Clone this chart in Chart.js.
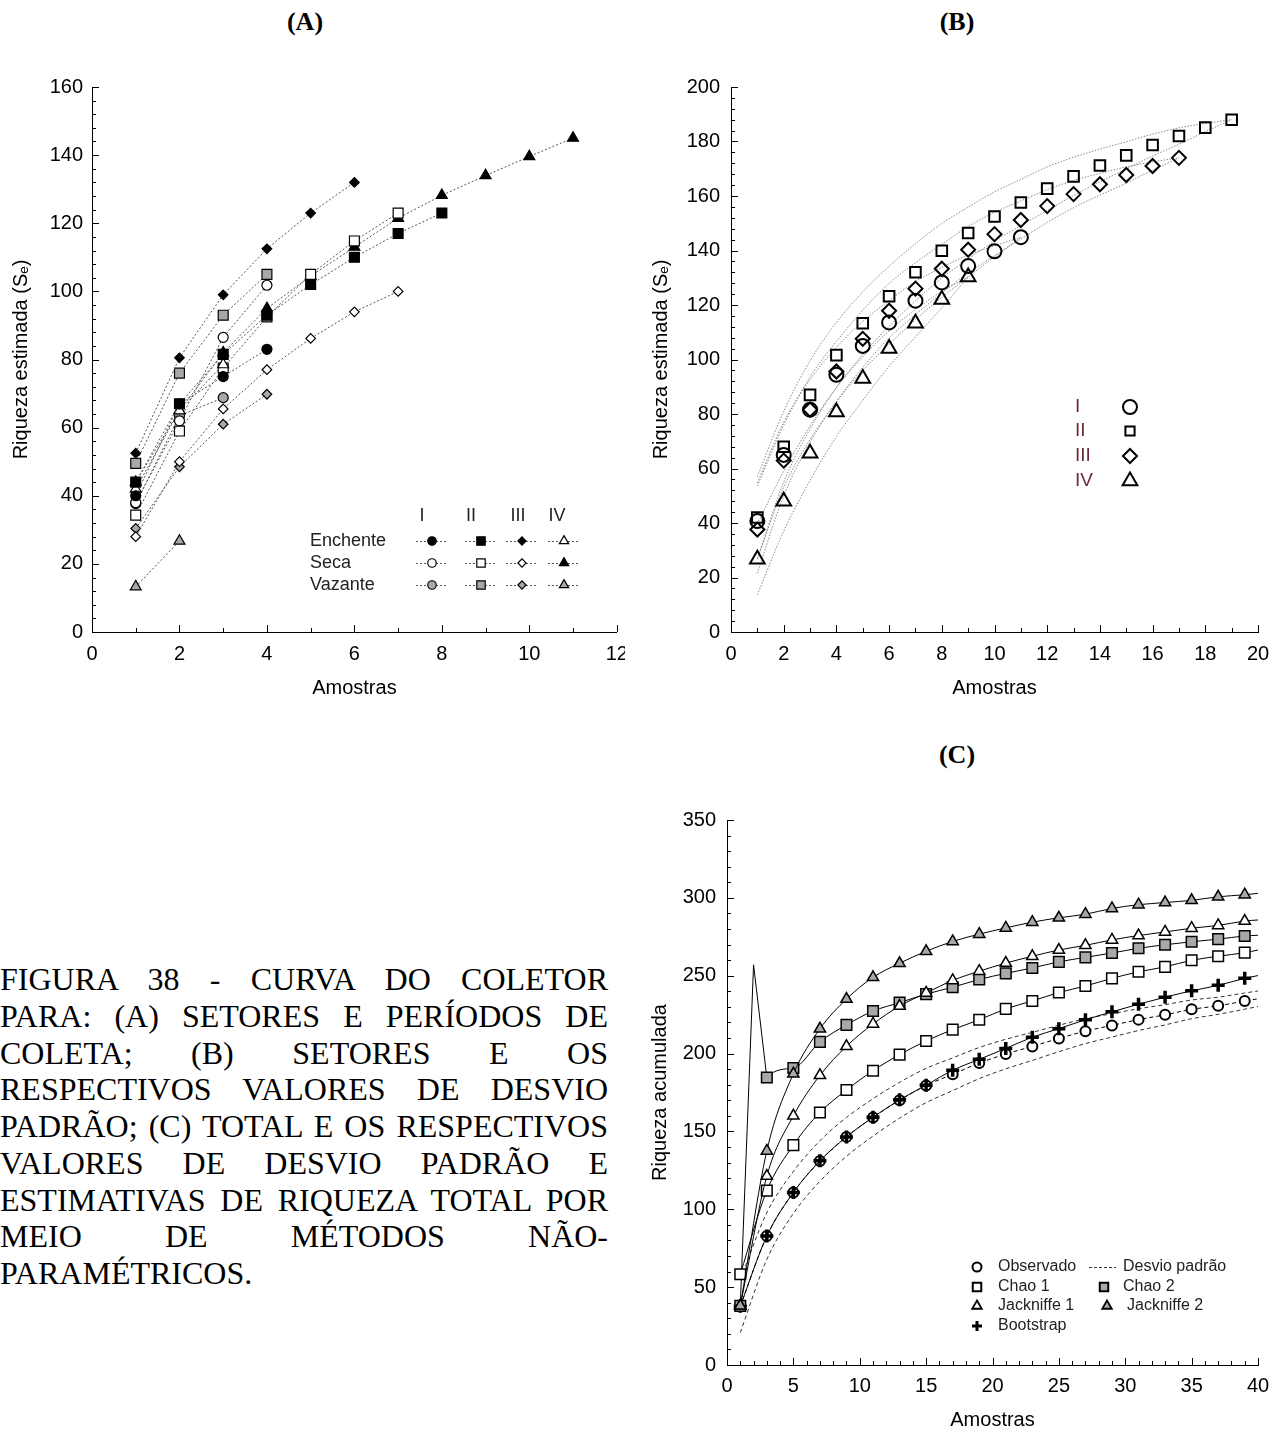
<!DOCTYPE html>
<html lang="pt">
<head>
<meta charset="utf-8">
<title>Curva do coletor</title>
<script src="https://cdn.jsdelivr.net/npm/chart.js@4.4.1/dist/chart.umd.min.js"></script>
<style>
  html, body { margin: 0; padding: 0; background: #fff; }
  body { width: 1285px; height: 1432px; position: relative; overflow: hidden; }
  .panel-title {
    position: absolute; transform: translateX(-50%);
    font-family: "Liberation Serif", "Times New Roman", serif;
    font-weight: bold; font-size: 26px; line-height: 30px; color: #000;
  }
  .box { position: absolute; }
  .box canvas { display: block; }
  .caption {
    position: absolute; left: 0; top: 961px; width: 608px;
    font-family: "Liberation Serif", "Times New Roman", serif;
    font-size: 32px; line-height: 36.75px; color: #000;
  }
  .caption div { text-align: justify; text-align-last: justify; }
  .caption div.last { text-align: left; text-align-last: left; }
</style>
</head>
<body>

<div class="panel-title" style="left:305px; top:7px;">(A)</div>
<div class="panel-title" style="left:957px; top:7px;">(B)</div>
<div class="panel-title" style="left:957px; top:740px;">(C)</div>

<div class="box" style="left:0; top:60px;"><canvas id="chartA" width="625" height="660"></canvas></div>
<div class="box" style="left:640px; top:60px;"><canvas id="chartB" width="645" height="660"></canvas></div>
<div class="box" style="left:640px; top:800px;"><canvas id="chartC" width="645" height="632"></canvas></div>

<div class="caption">
  <div>FIGURA 38 - CURVA DO COLETOR</div>
  <div>PARA: (A) SETORES E PERÍODOS DE</div>
  <div>COLETA; (B) SETORES E OS</div>
  <div>RESPECTIVOS VALORES DE DESVIO</div>
  <div>PADRÃO; (C) TOTAL E OS RESPECTIVOS</div>
  <div>VALORES DE DESVIO PADRÃO E</div>
  <div>ESTIMATIVAS DE RIQUEZA TOTAL POR</div>
  <div>MEIO DE MÉTODOS NÃO-</div>
  <div class="last">PARAMÉTRICOS.</div>
</div>

<script>
// ---------- (A) setores e períodos de coleta ----------
const amostrasA = [1, 2, 3, 4, 5, 6, 7, 8, 9, 10, 11];
const enchenteI = [40, 67, 75, 83];
const enchenteII = [44, 67, 81.5, 93, 102, 110, 117, 123];
const enchenteIII = [52.5, 80.5, 99, 112.5, 123, 132];
const enchenteIV = [42, 65, 78.5];
const secaI = [38, 62, 86.5, 101.8];
const secaII = [34.3, 59, 77.5, 92.5, 105, 114.8, 123];
const secaIII = [28, 50, 65.5, 77, 86.2, 94, 100];
const secaIV = [44, 65, 82, 95, 104.5, 113, 121.5, 128.2, 134, 139.6, 145];
const vazanteI = [37.7, 63.5, 68.8];
const vazanteII = [49.5, 76, 93, 105];
const vazanteIII = [30.4, 48.5, 61, 69.8];
const vazanteIV = [13.3, 26.7];

// ---------- (B) setores com desvio padrão ----------
const amostrasB = [1, 2, 3, 4, 5, 6, 7, 8, 9, 10, 11, 12, 13, 14, 15, 16, 17, 18, 19];
const setorI = [40.7, 65, 81.6, 94.4, 105, 113.6, 121.6, 128.3, 134.3, 139.7, 144.9];
const setorII = [42, 68, 87, 101.6, 113.3, 123.2, 132, 139.9, 146.4, 152.5, 157.6, 162.7, 167.2, 171.2, 174.9, 178.7, 182, 185.1, 188];
const setorIII = [37.6, 62.9, 81.6, 95.6, 107.6, 117.9, 126, 133.3, 140.3, 146, 151.2, 156.3, 160.7, 164.3, 167.7, 171, 174];
const setorIV = [26.7, 48, 65.6, 80.7, 93, 104, 113.3, 122, 130.3];
const setorIMais = [54.7, 77, 92.6, 104.4, 114, 121.6, 128.6, 133.8, 138.3, 141.7, 144.9];
const setorIMenos = [26.7, 53, 70.6, 84.4, 96, 105.6, 114.6, 122.8, 130.3, 137.7, 144.9];
const setorIIMais = [57, 81, 99.5, 113.6, 124.8, 134.2, 142.5, 149.9, 155.9, 161.5, 166.1, 170.7, 174.2, 177.2, 179.9, 182.7, 185, 186.6, 188];
const setorIIMenos = [27, 55, 74.5, 89.6, 101.8, 112.2, 121.5, 129.9, 136.9, 143.5, 149.1, 154.7, 160.2, 165.2, 169.9, 174.7, 179, 183.6, 188];
const setorIIIMais = [53.6, 75.9, 93.6, 106.6, 118.1, 127.9, 135.5, 142.3, 148.8, 154, 158.2, 162.3, 165.7, 168.3, 170.7, 172.5, 174];
const setorIIIMenos = [21.6, 49.9, 69.6, 84.6, 97.1, 107.9, 116.5, 124.3, 131.8, 138, 144.2, 150.3, 155.7, 160.3, 164.7, 169.5, 174];
const setorIVMais = [39.7, 59, 75.6, 89.7, 101, 110.5, 118.3, 125, 130.3];
const setorIVMenos = [13.7, 37, 55.6, 71.7, 85, 97.5, 108.3, 119, 130.3];

// ---------- (C) total e estimadores ----------
const amostrasC = [1, 3, 5, 7, 9, 11, 13, 15, 17, 19, 21, 23, 25, 27, 29, 31, 33, 35, 37, 39, 40];
const observado = [37.8, 82.8, 110.8, 131, 146.5, 159, 170, 179.5, 186.7, 193.9, 199.7, 204.6, 209.7, 214.4, 218.1, 221.8, 224.9, 228.4, 230.7, 233.7, 235.2];
const desvioMais = [54.8, 97.8, 124.3, 144, 159, 171, 181.5, 190.5, 197.2, 203.9, 209.2, 213.6, 218.2, 222.4, 225.6, 228.8, 231.4, 234.4, 236.2, 238.9, 240.2];
const desvioMenos = [20.8, 67.8, 97.3, 118, 134, 147, 158.5, 168.5, 176.2, 183.9, 190.2, 195.6, 201.2, 206.4, 210.6, 214.8, 218.4, 222.4, 225.2, 228.5, 230.2];
const chao1 = [58.3, 112, 141.2, 162.2, 176.6, 189, 199.3, 208.1, 215.4, 221.7, 228.7, 233.8, 239.2, 243.4, 248.3, 252.5, 255.7, 259.9, 262.5, 264.8, 266.5];
const chao2 = [38, 184.6, 190.7, 207.5, 218.4, 227.3, 232.7, 238.2, 242.6, 247.6, 251.5, 255, 258.9, 261.8, 264.6, 267.6, 269.9, 271.8, 273.5, 275.5, 276];
const chao2Amostra2 = 257;   // pico na amostra 2 (sem marcador)
const jackknife1 = [38, 121.3, 160, 186, 204.7, 219, 230.5, 238.9, 247, 252.9, 258.1, 262.5, 266.5, 269.5, 273, 275.8, 278.1, 280.5, 282.3, 285.1, 285.8];
const jackknife2 = [38, 137.5, 187, 215.9, 235, 249, 258, 265.7, 272, 276.7, 280.7, 284.4, 287.2, 289.5, 293.2, 295.6, 297, 298.4, 300.7, 302, 302.9];
const bootstrap = [37.8, 82.8, 110.8, 131.1, 146.5, 159.1, 170.3, 179.7, 189.3, 196.3, 203.3, 210.5, 216, 221.7, 226.8, 231.7, 236.2, 240.3, 243.8, 248.3, 250.1];

// ---------- helpers ----------
const FONT = '"Liberation Sans", Arial, sans-serif';
const GRAY = '#a8a8a8';
const toPoints = (xs, ys) => ys.map((v, i) => ({ x: xs[i], y: v }));

const tickMarks = {
    id: 'tickMarks',
    afterDraw(chart, args, opts) {
        const { ctx, scales: { x, y } } = chart;
        const isMajor = (v, step) => Math.abs(v / step - Math.round(v / step)) < 1e-6;
        ctx.save();
        ctx.strokeStyle = '#000';
        ctx.lineWidth = 1;
        for (let v = x.min; v <= x.max + 1e-6; v += opts.xMinor) {
            const px = Math.round(x.getPixelForValue(v)) + 0.5;
            const len = isMajor(v, opts.xMajor) ? 7 : 4;
            ctx.beginPath(); ctx.moveTo(px, y.bottom); ctx.lineTo(px, y.bottom - len); ctx.stroke();
        }
        for (let v = y.min; v <= y.max + 1e-6; v += opts.yMinor) {
            const py = Math.round(y.getPixelForValue(v)) + 0.5;
            const len = isMajor(v, opts.yMajor) ? 7 : 4;
            ctx.beginPath(); ctx.moveTo(x.left, py); ctx.lineTo(x.left + len, py); ctx.stroke();
        }
        ctx.restore();
    }
};

function marker(ctx, style, x, y, r, fill, bw) {
    ctx.save();
    ctx.fillStyle = fill;
    ctx.strokeStyle = '#000';
    ctx.lineWidth = bw;
    Chart.helpers.drawPoint(ctx, { pointStyle: style, radius: r, borderWidth: bw, rotation: 0 }, x, y);
    ctx.restore();
}

function baseOptions(o) {
    return {
        responsive: false,
        animation: false,
        layout: { padding: { top: o.padTop, right: o.padRight, left: 0, bottom: 0 } },
        plugins: {
            legend: { display: false },
            tooltip: { enabled: false },
            tickMarks: { xMinor: o.xMinor, xMajor: o.xStep, yMinor: o.yMinor, yMajor: o.yStep }
        },
        scales: {
            x: {
                type: 'linear', min: 0, max: o.xMax,
                ticks: { stepSize: o.xStep, color: '#000', font: { family: FONT, size: 20 }, padding: o.xTickPad, maxRotation: 0 },
                grid: { display: true, drawOnChartArea: false, drawTicks: false },
                border: { display: true, color: '#000', width: 1 },
                title: { display: true, text: 'Amostras', color: '#000', font: { family: FONT, size: 20 }, padding: { top: 0, bottom: o.xTitlePad } },
                afterFit(s) { s.height = o.xAxisHeight; s.paddingLeft = 0; s.paddingRight = 0; }
            },
            y: {
                type: 'linear', min: 0, max: o.yMax,
                ticks: { stepSize: o.yStep, color: '#000', font: { family: FONT, size: 20 }, padding: o.yTickPad },
                grid: { display: true, drawOnChartArea: false, drawTicks: false },
                border: { display: true, color: '#000', width: 1 },
                title: { display: true, text: o.yTitle, color: '#000', font: { family: FONT, size: 20 }, padding: { top: o.yTitlePad, bottom: 0 } },
                afterFit(s) { s.width = o.yAxisWidth; s.paddingTop = 0; s.paddingBottom = 0; }
            }
        }
    };
}

// ---------- chart A ----------
const seriesA = [
    { row: 0, col: 0, values: enchenteI, style: 'circle', r: 5, fill: '#000' },
    { row: 0, col: 1, values: enchenteII, style: 'rect', r: 7, fill: '#000' },
    { row: 0, col: 2, values: enchenteIII, style: 'rectRot', r: 4.8, fill: '#000' },
    { row: 0, col: 3, values: enchenteIV, style: 'triangle', r: 6.3, fill: '#fff' },
    { row: 1, col: 0, values: secaI, style: 'circle', r: 5, fill: '#fff' },
    { row: 1, col: 1, values: secaII, style: 'rect', r: 7, fill: '#fff' },
    { row: 1, col: 2, values: secaIII, style: 'rectRot', r: 4.8, fill: '#fff' },
    { row: 1, col: 3, values: secaIV, style: 'triangle', r: 6.3, fill: '#000' },
    { row: 2, col: 0, values: vazanteI, style: 'circle', r: 5, fill: GRAY },
    { row: 2, col: 1, values: vazanteII, style: 'rect', r: 7, fill: GRAY },
    { row: 2, col: 2, values: vazanteIII, style: 'rectRot', r: 4.8, fill: GRAY },
    { row: 2, col: 3, values: vazanteIV, style: 'triangle', r: 6.3, fill: GRAY }
];

const legendA = {
    id: 'legendA',
    afterDraw(chart) {
        const ctx = chart.ctx;
        const oy = 60;
        const heads = ['I', 'II', 'III', 'IV'];
        const headX = [422, 471, 518, 557];
        const colX = [432, 481, 522, 564];
        const rowY = [541, 563, 585];
        const rows = ['Enchente', 'Seca', 'Vazante'];
        ctx.save();
        ctx.textBaseline = 'middle';
        ctx.font = '18px ' + FONT;
        ctx.fillStyle = '#222';
        ctx.textAlign = 'center';
        heads.forEach((h, i) => ctx.fillText(h, headX[i], 516 - oy));
        ctx.textAlign = 'left';
        rows.forEach((t, i) => ctx.fillText(t, 310, rowY[i] - oy));
        seriesA.forEach(s => {
            const cx = colX[s.col], cy = rowY[s.row] - oy;
            ctx.save();
            ctx.strokeStyle = '#555';
            ctx.lineWidth = 1;
            ctx.setLineDash([2, 2]);
            ctx.beginPath(); ctx.moveTo(cx - 16, cy + 0.5); ctx.lineTo(cx + 16, cy + 0.5); ctx.stroke();
            ctx.restore();
            marker(ctx, s.style, cx, cy, s.r * 0.85, s.fill, 1.2);
        });
        ctx.restore();
    }
};

new Chart(document.getElementById('chartA'), {
    type: 'line',
    data: {
        datasets: seriesA.map(s => ({
            data: toPoints(amostrasA, s.values),
            borderColor: '#555',
            borderWidth: 1,
            borderDash: [2, 2],
            tension: 0,
            pointStyle: s.style,
            pointRadius: s.r,
            pointBackgroundColor: s.fill,
            pointBorderColor: '#000',
            pointBorderWidth: 1.2
        }))
    },
    options: baseOptions({
        xMax: 12, xStep: 2, xMinor: 1, yMax: 160, yStep: 20, yMinor: 4,
        yTitle: 'Riqueza estimada (Sₑ)', padTop: 27, padRight: 8,
        xAxisHeight: 88, yAxisWidth: 92, xTickPad: 10, yTickPad: 9, xTitlePad: 20, yTitlePad: 9
    }),
    plugins: [tickMarks, legendA]
});

// ---------- chart B ----------
const marcadoresB = [
    { label: 'I', values: setorI, style: 'circle', r: 7 },
    { label: 'II', values: setorII, style: 'rect', r: 7.5 },
    { label: 'III', values: setorIII, style: 'rectRot', r: 7 },
    { label: 'IV', values: setorIV, style: 'triangle', r: 8.5 }
];
const faixasB = [setorIMais, setorIMenos, setorIIMais, setorIIMenos, setorIIIMais, setorIIIMenos, setorIVMais, setorIVMenos];

const legendB = {
    id: 'legendB',
    afterDraw(chart) {
        const ctx = chart.ctx;
        const ox = 640, oy = 60;
        const rowY = [407, 431, 456, 481];
        ctx.save();
        ctx.font = '19px ' + FONT;
        ctx.textBaseline = 'middle';
        ctx.textAlign = 'left';
        ctx.fillStyle = '#6e2a36';
        marcadoresB.forEach((m, i) => {
            ctx.fillText(m.label, 1075 - ox, rowY[i] - oy);
            marker(ctx, m.style, 1130 - ox, rowY[i] - oy, m.style === 'rect' ? 6.5 : m.r, 'rgba(255,255,255,0)', 2);
        });
        ctx.restore();
    }
};

new Chart(document.getElementById('chartB'), {
    type: 'line',
    data: {
        datasets: [
            ...marcadoresB.map(m => ({
                data: toPoints(amostrasB, m.values),
                showLine: false,
                pointStyle: m.style,
                pointRadius: m.r,
                pointBackgroundColor: 'rgba(255,255,255,0)',
                pointBorderColor: '#000',
                pointBorderWidth: 2
            })),
            ...faixasB.map(f => ({
                data: toPoints(amostrasB, f),
                borderColor: '#8a8a8a',
                borderWidth: 1,
                borderDash: [1.5, 1.5],
                cubicInterpolationMode: 'monotone',
                pointRadius: 0
            }))
        ]
    },
    options: baseOptions({
        xMax: 20, xStep: 2, xMinor: 1, yMax: 200, yStep: 20, yMinor: 4,
        yTitle: 'Riqueza estimada (Sₑ)', padTop: 27, padRight: 27,
        xAxisHeight: 88, yAxisWidth: 91, xTickPad: 10, yTickPad: 11, xTitlePad: 20, yTitlePad: 9
    }),
    plugins: [tickMarks, legendB]
});

// ---------- chart C ----------
const semMarcador = ctx => (ctx.raw && ctx.raw.x === 40);
const estimadoresC = [
    { label: 'Jackniffe 2', values: jackknife2, style: 'triangle', r: 6.5, fill: GRAY, bw: 1.5 },
    { label: 'Jackniffe 1', values: jackknife1, style: 'triangle', r: 6.5, fill: '#fff', bw: 1.5 },
    { label: 'Chao 2', values: chao2, style: 'rect', r: 7.5, fill: GRAY, bw: 1.5 },
    { label: 'Chao 1', values: chao1, style: 'rect', r: 7.5, fill: '#fff', bw: 1.5 },
    { label: 'Bootstrap', values: bootstrap, style: 'cross', r: 6.5, fill: '#000', bw: 3.5 },
    { label: 'Observado', values: observado, style: 'circle', r: 5, fill: '#fff', bw: 2 }
];

const datasetsC = estimadoresC.map(e => ({
    label: e.label,
    data: toPoints(amostrasC, e.values),
    borderColor: '#000',
    borderWidth: 1,
    borderDash: e.values === observado ? [4, 3] : [],
    cubicInterpolationMode: 'monotone',
    pointStyle: e.style,
    pointRadius: c => semMarcador(c) ? 0 : e.r,
    pointBackgroundColor: e.fill,
    pointBorderColor: '#000',
    pointBorderWidth: e.bw
}));
// trecho inicial do Chao 2, com o pico da amostra 2, em linha reta
datasetsC.push({
    label: 'Chao 2 (início)',
    data: [{ x: amostrasC[0], y: chao2[0] }, { x: 2, y: chao2Amostra2 }, { x: amostrasC[1], y: chao2[1] }],
    borderColor: '#000',
    borderWidth: 1,
    tension: 0,
    pointRadius: 0
});
[desvioMais, desvioMenos].forEach(d => datasetsC.push({
    label: 'Desvio padrão',
    data: toPoints(amostrasC, d),
    borderColor: '#333',
    borderWidth: 1,
    borderDash: [4, 3],
    cubicInterpolationMode: 'monotone',
    pointRadius: 0
}));
// o Chao 2 principal não liga a amostra 1 à 3 (feito pelo trecho acima)
datasetsC[2].segment = { borderColor: c => c.p0DataIndex === 0 ? 'rgba(0,0,0,0)' : '#000' };

const legendC = {
    id: 'legendC',
    afterDraw(chart) {
        const ctx = chart.ctx;
        const ox = 640, oy = 800;
        ctx.save();
        ctx.font = '16px ' + FONT;
        ctx.textBaseline = 'middle';
        ctx.textAlign = 'left';
        const items = [
            { text: 'Observado', mx: 977, tx: 998, y: 1267, style: 'circle', r: 4.5, fill: '#fff', bw: 2 },
            { text: 'Chao 1', mx: 977, tx: 998, y: 1287, style: 'rect', r: 6, fill: '#fff', bw: 2 },
            { text: 'Jackniffe 1', mx: 977, tx: 998, y: 1306, style: 'triangle', r: 5.5, fill: '#fff', bw: 1.8 },
            { text: 'Bootstrap', mx: 977, tx: 998, y: 1326, style: 'cross', r: 5, fill: '#000', bw: 3 },
            { text: 'Chao 2', mx: 1104, tx: 1123, y: 1287, style: 'rect', r: 6, fill: GRAY, bw: 2 },
            { text: 'Jackniffe 2', mx: 1107, tx: 1127, y: 1306, style: 'triangle', r: 5.5, fill: GRAY, bw: 1.8 }
        ];
        items.forEach(it => {
            marker(ctx, it.style, it.mx - ox, it.y - oy, it.r, it.fill, it.bw);
            ctx.fillStyle = '#222';
            ctx.fillText(it.text, it.tx - ox, it.y - oy);
        });
        ctx.save();
        ctx.strokeStyle = '#333';
        ctx.lineWidth = 1;
        ctx.setLineDash([3, 2]);
        ctx.beginPath(); ctx.moveTo(1089 - ox, 1267.5 - oy); ctx.lineTo(1116 - ox, 1267.5 - oy); ctx.stroke();
        ctx.restore();
        ctx.fillStyle = '#222';
        ctx.fillText('Desvio padrão', 1123 - ox, 1267 - oy);
        ctx.restore();
    }
};

new Chart(document.getElementById('chartC'), {
    type: 'line',
    data: { datasets: datasetsC },
    options: baseOptions({
        xMax: 40, xStep: 5, xMinor: 1, yMax: 350, yStep: 50, yMinor: 10,
        yTitle: 'Riqueza acumulada', padTop: 20, padRight: 27,
        xAxisHeight: 67, yAxisWidth: 87, xTickPad: 9, yTickPad: 11, xTitlePad: 0, yTitlePad: 8
    }),
    plugins: [tickMarks, legendC]
});
</script>
</body>
</html>
